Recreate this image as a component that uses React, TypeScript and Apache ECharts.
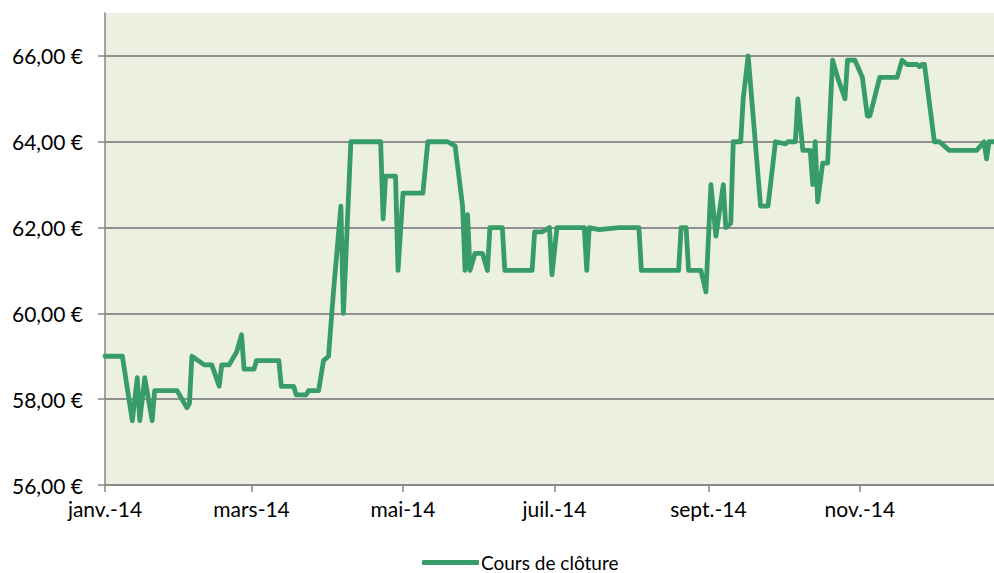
import React, { useEffect, useRef } from "react";
import * as echarts from "echarts";

const dates = [
  "2014-01-01", "2014-01-08", "2014-01-12", "2014-01-14", "2014-01-15", "2014-01-17", "2014-01-20", "2014-01-21",
  "2014-01-30", "2014-02-03", "2014-02-04", "2014-02-05", "2014-02-10", "2014-02-13", "2014-02-16", "2014-02-17",
  "2014-02-20", "2014-02-23", "2014-02-25", "2014-02-26", "2014-03-02", "2014-03-03", "2014-03-12", "2014-03-13",
  "2014-03-18", "2014-03-19", "2014-03-23", "2014-03-24", "2014-03-28", "2014-03-30", "2014-04-01", "2014-04-03",
  "2014-04-06", "2014-04-07", "2014-04-08", "2014-04-10", "2014-04-22", "2014-04-23", "2014-04-24", "2014-04-28",
  "2014-04-29", "2014-05-01", "2014-05-09", "2014-05-11", "2014-05-19", "2014-05-22", "2014-05-25", "2014-05-26",
  "2014-05-27", "2014-05-28", "2014-05-30", "2014-06-02", "2014-06-04", "2014-06-05", "2014-06-10", "2014-06-11",
  "2014-06-22", "2014-06-23", "2014-06-26", "2014-06-29", "2014-06-30", "2014-07-02", "2014-07-13", "2014-07-14",
  "2014-07-15", "2014-07-19", "2014-07-27", "2014-08-04", "2014-08-05", "2014-08-20", "2014-08-21", "2014-08-23",
  "2014-08-24", "2014-08-29", "2014-08-31", "2014-09-02", "2014-09-04", "2014-09-07", "2014-09-08", "2014-09-10",
  "2014-09-11", "2014-09-14", "2014-09-15", "2014-09-17", "2014-09-22", "2014-09-25", "2014-09-28", "2014-10-02",
  "2014-10-03", "2014-10-06", "2014-10-07", "2014-10-09", "2014-10-12", "2014-10-13", "2014-10-14", "2014-10-15",
  "2014-10-17", "2014-10-19", "2014-10-21", "2014-10-23", "2014-10-26", "2014-10-27", "2014-10-30", "2014-11-02",
  "2014-11-04", "2014-11-05", "2014-11-09", "2014-11-16", "2014-11-18", "2014-11-20", "2014-11-24", "2014-11-25",
  "2014-11-26", "2014-11-27", "2014-12-01", "2014-12-03", "2014-12-07", "2014-12-18", "2014-12-21", "2014-12-22",
  "2014-12-23", "2014-12-25",
];

const closes = [
  59.0, 59.0, 57.5, 58.5, 57.5, 58.5, 57.5, 58.2,
  58.2, 57.8, 57.9, 59.0, 58.8, 58.8, 58.3, 58.8,
  58.8, 59.1, 59.5, 58.7, 58.7, 58.9, 58.9, 58.3,
  58.3, 58.1, 58.1, 58.2, 58.2, 58.9, 59.0, 60.5,
  62.5, 60.0, 61.3, 64.0, 64.0, 62.2, 63.2, 63.2,
  61.0, 62.8, 62.8, 64.0, 64.0, 63.9, 62.5, 61.0,
  62.3, 61.0, 61.4, 61.4, 61.0, 62.0, 62.0, 61.0,
  61.0, 61.9, 61.9, 62.0, 60.9, 62.0, 62.0, 61.0,
  62.0, 61.95, 62.0, 62.0, 61.0, 61.0, 62.0, 62.0,
  61.0, 61.0, 60.5, 63.0, 61.8, 63.0, 62.0, 62.1,
  64.0, 64.0, 65.0, 66.0, 62.5, 62.5, 64.0, 63.95,
  64.0, 64.0, 65.0, 63.8, 63.8, 63.0, 64.0, 62.6,
  63.5, 63.5, 65.9, 65.5, 65.0, 65.9, 65.9, 65.5,
  64.6, 64.6, 65.5, 65.5, 65.9, 65.8, 65.8, 65.75,
  65.8, 65.8, 64.0, 64.0, 63.8, 63.8, 64.0, 63.6,
  64.0, 64.0,
];

const monthTicks = ["2014-01-01", "2014-03-01", "2014-05-01", "2014-07-01", "2014-09-01", "2014-11-01"];
const monthLabels = ["janv.-14", "mars-14", "mai-14", "juil.-14", "sept.-14", "nov.-14"];
const priceTicks = [56, 58, 60, 62, 64, 66];
const seriesName = "Cours de clôture";

const toTs = (s: string) => {
  const [y, m, d] = s.split("-").map(Number);
  return Date.UTC(y, m - 1, d);
};

export default function App() {
  const ref = useRef<HTMLDivElement>(null);

  useEffect(() => {
    document.body.style.margin = "0";
    if (!ref.current) return;
    const chart = echarts.init(ref.current, undefined, { renderer: "svg" });
    const tickTs = monthTicks.map(toTs);
    const font = "Lato";
    const fs = 21;
    const gridColor = "#909090";
    const axisColor = "#868686";
    chart.setOption({
      animation: false,
      textStyle: { fontFamily: font },
      grid: {
        left: 105,
        right: 0,
        top: 13,
        bottom: 88,
        show: true,
        backgroundColor: "#ECF0E0",
        borderWidth: 0,
      },
      legend: {
        left: 417,
        top: 548,
        icon: "roundRect",
        itemWidth: 57,
        itemHeight: 5,
        itemGap: 4,
        textStyle: { fontFamily: font, fontSize: 19, lineHeight: 19, color: "#000", padding: [0, 0, 0, -3] },
        data: [seriesName],
      },
      xAxis: {
        type: "value",
        min: toTs("2014-01-01"),
        max: toTs("2014-12-25"),
        axisLine: { show: true, lineStyle: { color: axisColor, width: 1.5 } },
        axisTick: { show: true, length: 7, customValues: tickTs, lineStyle: { color: axisColor, width: 1.5 } },
        axisLabel: {
          customValues: tickTs,
          margin: 13,
          fontSize: fs,
          color: "#000",
          fontFamily: font,
          formatter: (v: number) => {
            const i = tickTs.indexOf(v);
            return i >= 0 ? monthLabels[i] : "";
          },
        },
        splitLine: { show: false },
      },
      yAxis: {
        type: "value",
        min: 56,
        max: 67,
        interval: 2,
        axisLine: { show: true, lineStyle: { color: axisColor, width: 1.5 } },
        axisTick: { show: true, length: 7, customValues: priceTicks, lineStyle: { color: axisColor, width: 1.5 } },
        axisLabel: {
          customValues: priceTicks,
          margin: 22,
          fontSize: fs,
          color: "#000",
          fontFamily: font,
          formatter: (v: number) => v.toFixed(2).replace(".", ",") + " €",
        },
        splitLine: {
          show: true,
          lineStyle: {
            color: [gridColor, gridColor, gridColor, gridColor, gridColor, gridColor, "rgba(0,0,0,0)"],
            width: 2,
          },
        },
      },
      series: [
        {
          name: seriesName,
          type: "line",
          data: dates.map((d, i) => [toTs(d), closes[i]]),
          showSymbol: false,
          symbol: "none",
          lineStyle: { color: "#379C68", width: 4.8, join: "round", cap: "round" },
          itemStyle: { color: "#379C68" },
        },
      ],
    });
    return () => chart.dispose();
  }, []);

  return <div ref={ref} style={{ width: 994, height: 573 }} />;
}
